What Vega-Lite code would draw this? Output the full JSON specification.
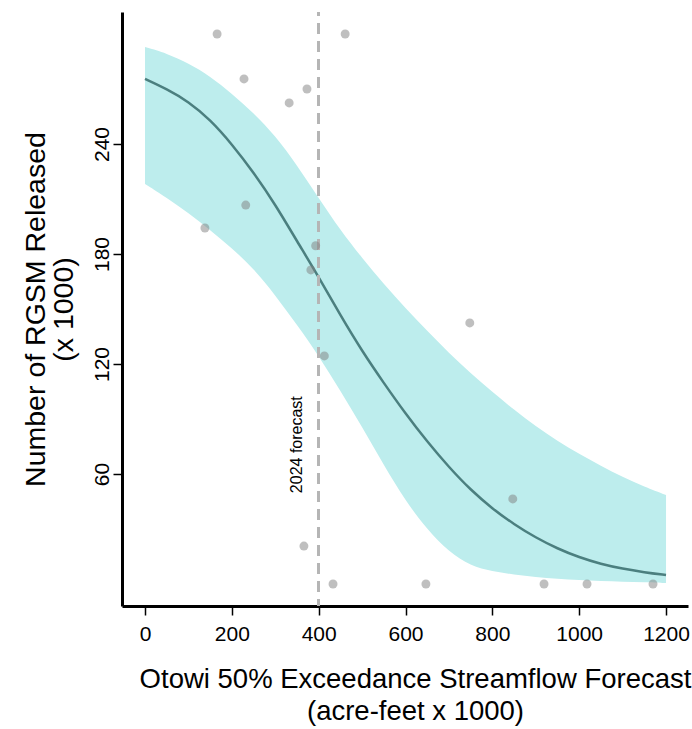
{
  "$schema": "https://vega.github.io/schema/vega-lite/v6.json",
  "width": 566,
  "height": 594,
  "autosize": {"type": "none"},
  "padding": {"left": 122, "top": 12, "right": 4, "bottom": 123},
  "background": "white",
  "config": {"view": {"stroke": null}, "font": "Liberation Sans"},
  "datasets": {
    "fit": [
      {"x": 0, "fit": 275.5, "lo": 218.2, "hi": 292.9},
      {"x": 50, "fit": 270, "lo": 210.7, "hi": 289.5},
      {"x": 100, "fit": 263.2, "lo": 202.4, "hi": 284},
      {"x": 150, "fit": 253.3, "lo": 193.1, "hi": 277},
      {"x": 200, "fit": 240, "lo": 183.3, "hi": 267.5},
      {"x": 250, "fit": 224.5, "lo": 172, "hi": 256.9},
      {"x": 300, "fit": 207, "lo": 157.6, "hi": 244.5},
      {"x": 350, "fit": 187, "lo": 141.3, "hi": 228.5},
      {"x": 400, "fit": 167.5, "lo": 124.5, "hi": 210.5},
      {"x": 450, "fit": 146.5, "lo": 105.3, "hi": 193},
      {"x": 500, "fit": 127, "lo": 85.6, "hi": 177.8},
      {"x": 550, "fit": 109.6, "lo": 64.9, "hi": 163.6},
      {"x": 600, "fit": 92.9, "lo": 45.3, "hi": 150.5},
      {"x": 650, "fit": 77.6, "lo": 29.7, "hi": 138},
      {"x": 700, "fit": 63.7, "lo": 17.5, "hi": 126},
      {"x": 750, "fit": 51.3, "lo": 9.8, "hi": 115},
      {"x": 800, "fit": 41.1, "lo": 6.8, "hi": 104.7},
      {"x": 850, "fit": 32.5, "lo": 5.2, "hi": 95},
      {"x": 900, "fit": 25.3, "lo": 3.8, "hi": 86},
      {"x": 950, "fit": 19.3, "lo": 2.7, "hi": 78},
      {"x": 1000, "fit": 14.5, "lo": 2.2, "hi": 70.9},
      {"x": 1050, "fit": 10.9, "lo": 1.6, "hi": 64.4},
      {"x": 1100, "fit": 8.3, "lo": 1.3, "hi": 58.3},
      {"x": 1150, "fit": 6.4, "lo": 0.9, "hi": 53},
      {"x": 1200, "fit": 4.9, "lo": 0.5, "hi": 48.5}
    ],
    "obs": [
      {"x": 166, "y": 300},
      {"x": 461, "y": 300},
      {"x": 228, "y": 275.5},
      {"x": 373, "y": 270},
      {"x": 332, "y": 262.4},
      {"x": 232, "y": 206.7},
      {"x": 138, "y": 194.2},
      {"x": 393, "y": 184.5},
      {"x": 382, "y": 171.3},
      {"x": 413, "y": 124.4},
      {"x": 366, "y": 20.7},
      {"x": 433, "y": 0},
      {"x": 748, "y": 142.4},
      {"x": 847, "y": 46.4},
      {"x": 647, "y": 0},
      {"x": 919, "y": 0},
      {"x": 1018, "y": 0},
      {"x": 1170, "y": 0}
    ],
    "note": [{"x": 350, "y": 76, "label": "2024 forecast"}]
  },
  "layer": [
    {
      "data": {"name": "fit"},
      "mark": {"type": "area", "color": "#BDEDED", "opacity": 1, "interpolate": "basis"},
      "encoding": {
        "x": {
          "field": "x", "type": "quantitative",
          "scale": {"domain": [-53, 1250.6], "nice": false, "zero": false},
          "axis": {
            "values": [0, 200, 400, 600, 800, 1000, 1200],
            "format": "d",
            "grid": false,
            "domainColor": "black", "domainWidth": 3,
            "tickColor": "black", "tickWidth": 1.5, "tickSize": 9,
            "labelFontSize": 21, "labelColor": "black", "labelPadding": 8,
            "labelBaseline": "top", "labelFlush": false, "labelOverlap": false,
            "title": ["Otowi 50% Exceedance Streamflow Forecast", "(acre-feet x 1000)"],
            "titleFontSize": 27.5, "titleFontWeight": "normal", "titleColor": "black",
            "titleAlign": "center", "titleBaseline": "middle",
            "titleX": 293, "titleY": 73, "titleLineHeight": 32
          }
        },
        "y": {
          "field": "hi", "type": "quantitative",
          "scale": {"domain": [-12, 312], "nice": false, "zero": false},
          "axis": {
            "values": [60, 120, 180, 240],
            "grid": false,
            "domainColor": "black", "domainWidth": 3,
            "tickColor": "black", "tickWidth": 1.5, "tickSize": 9,
            "labelFontSize": 21, "labelColor": "black", "labelPadding": 5,
            "labelAngle": 270, "labelAlign": "center", "labelBaseline": "alphabetic",
            "labelFlush": false, "labelOverlap": false,
            "title": ["Number of RGSM Released", "(x 1000)"],
            "titleFontSize": 28.5, "titleFontWeight": "normal", "titleColor": "black",
            "titleAngle": 270, "titleAlign": "center", "titleBaseline": "middle",
            "titleX": -87, "titleY": 297, "titleLineHeight": 28
          }
        },
        "y2": {"field": "lo"}
      }
    },
    {
      "data": {"name": "fit"},
      "mark": {"type": "line", "color": "#4B7F7F", "strokeWidth": 2.5, "interpolate": "basis"},
      "encoding": {
        "x": {"field": "x", "type": "quantitative"},
        "y": {"field": "fit", "type": "quantitative"}
      }
    },
    {
      "data": {"name": "fit"},
      "mark": {"type": "rule", "color": "#B5B5B5", "strokeWidth": 2.5, "strokeDash": [11, 7], "strokeDashOffset": 7},
      "encoding": {
        "x": {"datum": 400, "type": "quantitative"}
      }
    },
    {
      "data": {"name": "obs"},
      "mark": {"type": "point", "filled": true, "color": "#7F7F7F", "opacity": 0.5, "size": 80},
      "encoding": {
        "x": {"field": "x", "type": "quantitative"},
        "y": {"field": "y", "type": "quantitative"}
      }
    },
    {
      "data": {"name": "note"},
      "mark": {"type": "text", "angle": 270, "align": "center", "baseline": "middle", "fontSize": 16, "color": "black"},
      "encoding": {
        "x": {"field": "x", "type": "quantitative"},
        "y": {"field": "y", "type": "quantitative"},
        "text": {"field": "label"}
      }
    }
  ]
}
